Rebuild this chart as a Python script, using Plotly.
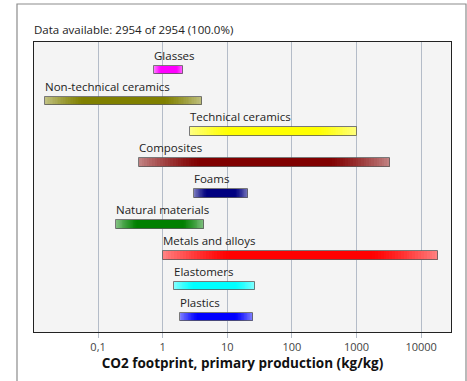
import math
import plotly.graph_objects as go

# ---- data ----
categories = ["Glasses", "Non-technical ceramics", "Technical ceramics", "Composites",
              "Foams", "Natural materials", "Metals and alloys", "Elastomers", "Plastics"]
low_values = [0.73, 0.0151, 2.64, 0.43, 3.0, 0.19, 1.0, 1.5, 1.85]
high_values = [2.09, 4.1, 1033, 3265, 21.2, 4.34, 18360, 26.6, 24.8]
colors = ["#ff00ff", "#808000", "#ffff00", "#800000", "#000080",
          "#008000", "#ff0000", "#00ffff", "#0000ff"]
tick_values = [0.1, 1, 10, 100, 1000, 10000]
tick_labels = ["0,1", "1", "10", "100", "1000", "10000"]
title_text = "Data available: 2954 of 2954 (100.0%)"
x_title = "CO2 footprint, primary production (kg/kg)"

W, H = 467, 381
ML, MR, MT, MB = 34, 16, 42, 49
FONT = "Open Sans"
BAR_W = 0.28
N_LAYERS = 24


def hex_to_rgb(h):
    h = h.lstrip("#")
    return tuple(int(h[i:i + 2], 16) for i in (0, 2, 4))


def mix(rgb, amount):
    # amount of white mixed in
    return "rgb(%d,%d,%d)" % tuple(round(c + (255 - c) * amount) for c in rgb)


fig = go.Figure()

# gradient-like bars: nested layers, lighter at the ends, full colour in the middle
for k in range(N_LAYERS):
    frac = k / (N_LAYERS - 1)
    inset = 0.24 * frac
    xs, bases, cols = [], [], []
    for lo, hi, c in zip(low_values, high_values, colors):
        llo, lhi = math.log10(lo), math.log10(hi)
        span = lhi - llo
        a = 10 ** (llo + span * inset)
        b = 10 ** (lhi - span * inset)
        bases.append(a)
        xs.append(b - a)
        cols.append(mix(hex_to_rgb(c), 0.5 * (1 - frac) ** 1.3))
    fig.add_trace(go.Bar(
        y=categories, x=xs, base=bases, orientation="h", width=BAR_W,
        marker=dict(color=cols, line=dict(width=0)),
        hoverinfo="skip", showlegend=False))

# outline
fig.add_trace(go.Bar(
    y=categories, x=[h - l for l, h in zip(low_values, high_values)], base=low_values,
    orientation="h", width=BAR_W,
    marker=dict(color="rgba(0,0,0,0)", line=dict(width=1, color="rgba(90,90,90,0.8)")),
    hoverinfo="skip", showlegend=False))

annotations = []
for cat, lo in zip(categories, low_values):
    annotations.append(dict(
        x=math.log10(lo), y=cat, xref="x", yref="y", text=cat, showarrow=False,
        xanchor="left", yanchor="bottom", yshift=BAR_W / 2 * 31 + 1, xshift=-2,
        font=dict(family=FONT, size=11.5, color="#222222")))

pw = W - ML - MR
ph = H - MT - MB
annotations.append(dict(
    x=0, y=1 + 13 / ph, xref="paper", yref="paper", text=title_text, showarrow=False,
    xanchor="left", yanchor="middle", xshift=-2,
    font=dict(family=FONT, size=11.5, color="#222222")))

shapes = [
    # outer gray frame
    dict(type="rect", xref="paper", yref="paper",
         x0=(17 - ML) / pw, x1=(W - 1 - ML) / pw,
         y0=-(MB + 5) / ph, y1=1 + (MT - 4) / ph,
         line=dict(color="#8c8c8c", width=1.2), fillcolor="rgba(0,0,0,0)", layer="below"),
]

fig.update_layout(
    width=W, height=H,
    margin=dict(l=ML, r=MR, t=MT, b=MB),
    paper_bgcolor="white",
    plot_bgcolor="#f4f4f4",
    barmode="overlay",
    bargap=0,
    annotations=annotations,
    shapes=shapes,
    xaxis=dict(
        type="log",
        range=[math.log10(0.0102), math.log10(29000)],
        tickvals=tick_values, ticktext=tick_labels,
        showgrid=True, gridcolor="#b4bcc8", gridwidth=1,
        ticks="outside", ticklen=5, tickcolor="#b4bcc8",
        tickfont=dict(family=FONT, size=11, color="#444444"),
        showline=True, linecolor="#222222", linewidth=1, mirror=True,
        zeroline=False,
        title=dict(text="<b>" + x_title + "</b>", standoff=3,
                   font=dict(family=FONT, size=13.5, color="#111111")),
    ),
    yaxis=dict(
        categoryorder="array", categoryarray=categories,
        range=[len(categories) - 1 + 0.485, -0.906],
        showticklabels=False, showgrid=False, ticks="",
        showline=True, linecolor="#222222", linewidth=1, mirror=True,
        zeroline=False,
    ),
)

fig.write_html("out.html")
